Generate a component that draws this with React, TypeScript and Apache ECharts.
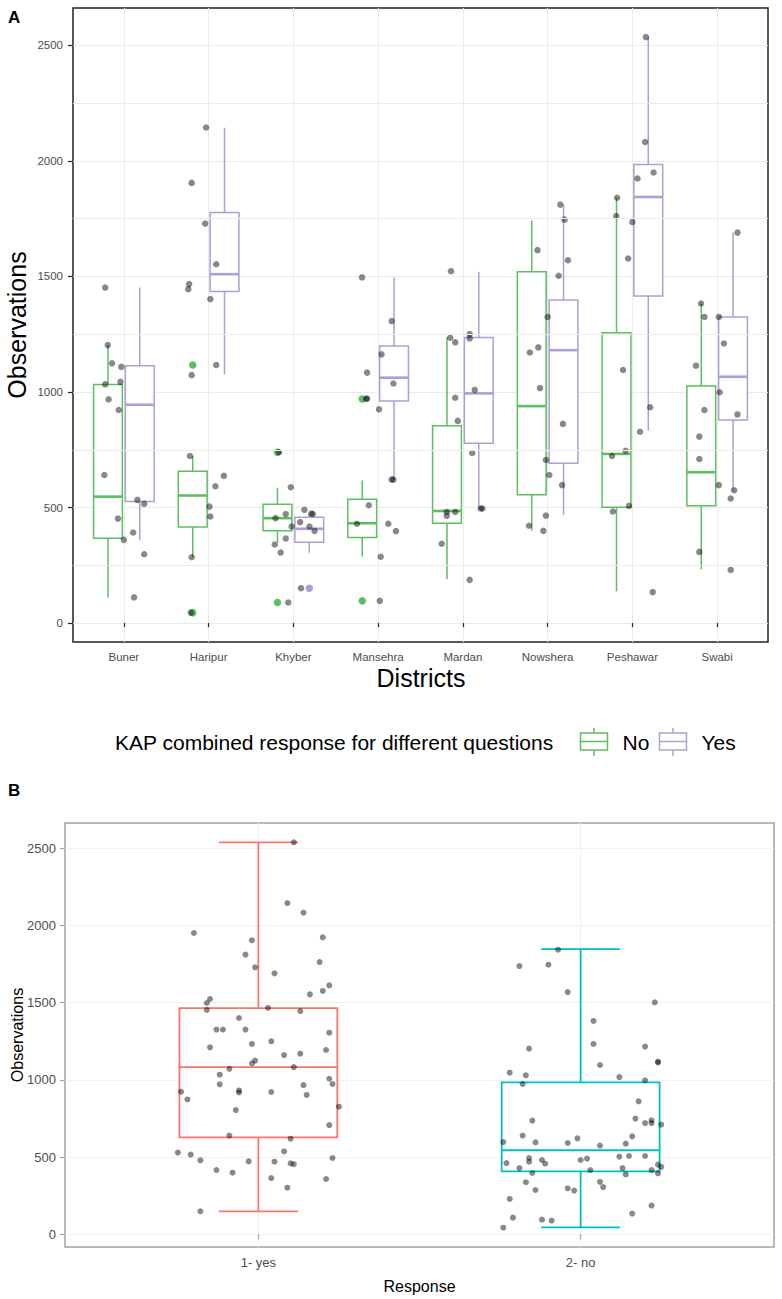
import React, { useEffect, useRef } from "react";
import * as echarts from "echarts";

// ---------- Panel A data ----------
const districts = ["Buner", "Haripur", "Khyber", "Mansehra", "Mardan", "Nowshera", "Peshawar", "Swabi"];
const yTicks = [0, 500, 1000, 1500, 2000, 2500];
const yMinorTicks = [250, 750, 1250, 1750, 2250];
const yMin = -82;
const yMax = 2662;

// [lower whisker, Q1, median, Q3, upper whisker]
const noBoxStats = [
  [111, 367, 547, 1033, 1203],
  [285, 416, 552, 657, 723],
  [348, 399, 454, 514, 586],
  [288, 370, 432, 536, 617],
  [191, 432, 485, 854, 1236],
  [400, 555, 939, 1520, 1743],
  [137, 501, 732, 1256, 1841],
  [233, 508, 653, 1026, 1383],
];
const yesBoxStats = [
  [360, 526, 945, 1114, 1452],
  [1076, 1435, 1510, 1777, 2144],
  [305, 350, 408, 458, 470],
  [621, 961, 1062, 1199, 1496],
  [495, 778, 994, 1236, 1520],
  [468, 692, 1181, 1398, 1811],
  [833, 1416, 1844, 1985, 2536],
  [575, 879, 1066, 1325, 1690],
];
// outliers: [district number (1-based), value]
const noOutliers = [
  [2, 1117], [2, 45], [3, 739], [3, 89], [4, 970], [4, 96],
];
const yesOutliers = [[3, 151]];

// jittered observations: [horizontal jitter (category units), value]
const bunerPoints = [
  [-0.22, 1452], [-0.19, 1203], [-0.14, 1124], [-0.03, 1109], [-0.22, 1033], [-0.04, 1044],
  [-0.18, 968], [-0.06, 922], [-0.23, 641], [-0.07, 452], [0.0, 360], [0.11, 392],
  [0.16, 533], [0.24, 516], [0.24, 298], [0.12, 111],
];
const haripurPoints = [
  [-0.03, 2145], [-0.2, 1905], [-0.04, 1729], [0.09, 1553], [-0.23, 1467], [-0.24, 1445],
  [0.02, 1402], [-0.2, 1073], [0.09, 1117], [-0.22, 723], [0.18, 637], [0.08, 592],
  [0.01, 504], [0.02, 461], [-0.2, 285], [-0.21, 45],
];
const khyberPoints = [
  [-0.17, 739], [-0.03, 588], [-0.09, 472], [-0.21, 454], [-0.02, 418], [-0.09, 366],
  [-0.22, 340], [-0.15, 305], [0.13, 490], [0.23, 472], [0.21, 474], [0.08, 437],
  [0.19, 418], [0.25, 399], [0.09, 151], [-0.06, 89],
];
const mansehraPoints = [
  [-0.14, 970], [-0.13, 972], [-0.13, 1084], [0.04, 1163], [0.18, 1037], [0.01, 925],
  [0.16, 621], [0.18, 621], [-0.11, 510], [-0.25, 430], [0.12, 430], [0.21, 398],
  [0.03, 287], [0.02, 96], [-0.19, 1496], [0.16, 1307],
];
const mardanPoints = [
  [-0.14, 1523], [-0.15, 1235], [-0.09, 1215], [0.08, 1251], [0.08, 1232], [-0.09, 975],
  [-0.06, 875], [0.14, 1009], [0.11, 736], [-0.19, 481], [-0.19, 464], [-0.09, 481],
  [0.21, 496], [0.23, 496], [-0.25, 343], [0.08, 187],
];
const nowsheraPoints = [
  [-0.12, 1614], [0.15, 1811], [0.2, 1746], [0.24, 1570], [0.13, 1503], [0.0, 1325],
  [-0.21, 1171], [-0.11, 1193], [-0.09, 1017], [0.18, 862], [-0.02, 706], [0.02, 641],
  [0.17, 597], [-0.22, 421], [-0.02, 465], [-0.05, 399],
];
const peshawarPoints = [
  [0.16, 2536], [0.15, 2082], [0.25, 1950], [0.06, 1924], [-0.18, 1841], [-0.19, 1761],
  [0.0, 1736], [-0.05, 1578], [-0.11, 1095], [-0.24, 723], [-0.08, 746], [-0.04, 507],
  [-0.23, 483], [0.21, 934], [0.09, 828], [0.24, 134],
];
const swabiPoints = [
  [0.24, 1690], [-0.19, 1383], [-0.15, 1325], [0.02, 1325], [0.08, 1210], [-0.25, 1114],
  [0.03, 999], [-0.15, 922], [0.24, 903], [-0.21, 807], [-0.21, 710], [0.02, 597],
  [0.2, 575], [0.16, 539], [-0.21, 308], [0.16, 230],
];

// ---------- Panel B data ----------
const responses = ["1- yes", "2- no"];
const responseBoxStats = [
  [149, 628, 1082, 1464, 2537],
  [45, 408, 544, 984, 1846],
];
const yesResponsePoints = [
  [0.11, 2537], [0.09, 2144], [0.14, 2082], [-0.2, 1950], [-0.02, 1903], [0.2, 1922],
  [-0.04, 1810], [0.19, 1762], [-0.01, 1728], [0.05, 1689], [0.22, 1611], [0.2, 1575],
  [0.16, 1553], [-0.15, 1523], [-0.16, 1497], [-0.16, 1452], [0.03, 1465], [0.13, 1445],
  [-0.06, 1400], [-0.13, 1325], [-0.11, 1325], [-0.04, 1325], [0.22, 1305], [0.04, 1249],
  [-0.02, 1232], [-0.15, 1210], [0.21, 1193], [0.13, 1169], [0.08, 1160], [-0.01, 1124],
  [-0.02, 1106], [-0.09, 1071], [0.11, 1082], [-0.12, 1033], [0.22, 1007], [-0.12, 971],
  [0.14, 966], [0.23, 973], [-0.24, 923], [-0.06, 931], [-0.06, 918], [0.04, 921],
  [0.15, 902], [-0.22, 873], [0.25, 826], [-0.07, 804], [0.22, 707], [-0.09, 639],
  [0.1, 619], [-0.25, 529], [0.08, 537], [-0.21, 516], [-0.18, 479], [-0.03, 472],
  [0.05, 470], [0.1, 459], [0.11, 454], [0.23, 494], [-0.13, 416], [-0.08, 399],
  [0.04, 364], [0.21, 358], [0.09, 302], [-0.18, 149],
];
const noResponsePoints = [
  [-0.07, 1842], [-0.19, 1736], [-0.1, 1745], [-0.04, 1568], [0.23, 1501], [0.04, 1381],
  [0.04, 1232], [-0.16, 1202], [0.2, 1215], [0.24, 1118], [0.24, 1112], [0.06, 1096],
  [-0.22, 1046], [-0.17, 1029], [0.12, 1018], [0.2, 997], [-0.18, 973], [0.18, 861],
  [-0.15, 736], [0.17, 749], [0.2, 720], [0.22, 738], [0.22, 720], [0.25, 710],
  [-0.18, 639], [0.16, 634], [-0.24, 597], [-0.14, 595], [-0.04, 591], [-0.01, 621],
  [0.14, 587], [0.06, 574], [0.12, 503], [0.15, 507], [0.2, 507], [-0.16, 494],
  [-0.16, 470], [-0.12, 481], [-0.11, 457], [0.0, 481], [0.02, 490], [-0.23, 461],
  [-0.19, 429], [0.03, 416], [0.13, 429], [0.24, 451], [0.25, 436], [0.22, 416],
  [0.24, 395], [-0.15, 397], [0.14, 388], [-0.17, 337], [0.06, 339], [0.07, 306],
  [-0.14, 287], [-0.04, 298], [-0.02, 283], [-0.22, 229], [0.22, 186], [-0.21, 108],
  [0.16, 134], [-0.12, 95], [-0.09, 89], [-0.24, 43],
];

// ---------- styling ----------
const GREEN = "#5DBE62";
const PURPLE = "#AD9FD4";
const RED = "#F8766D";
const CYAN = "#00BFC4";
const FONT = '"Liberation Sans", Arial, Helvetica, sans-serif';
const POINT = "rgba(0,0,0,0.58)";

function boxRenderer(offset: number, width: number, color: string, lw: number, medianLw: number, capWidth: number) {
  return (_params: any, api: any) => {
    const x = api.value(0) + offset;
    const pLow = api.coord([x, api.value(1)]);
    const pQ1 = api.coord([x, api.value(2)]);
    const pMed = api.coord([x, api.value(3)]);
    const pQ3 = api.coord([x, api.value(4)]);
    const pHigh = api.coord([x, api.value(5)]);
    const half = api.size([width, 0])[0] / 2;
    const cx = pMed[0];
    const stroke = { stroke: color, lineWidth: lw };
    const children: any[] = [
      { type: "line", shape: { x1: cx, y1: pQ3[1], x2: cx, y2: pHigh[1] }, style: stroke },
      { type: "line", shape: { x1: cx, y1: pQ1[1], x2: cx, y2: pLow[1] }, style: stroke },
    ];
    if (capWidth > 0) {
      const ch = api.size([capWidth, 0])[0] / 2;
      children.push({ type: "line", shape: { x1: cx - ch, y1: pHigh[1], x2: cx + ch, y2: pHigh[1] }, style: stroke });
      children.push({ type: "line", shape: { x1: cx - ch, y1: pLow[1], x2: cx + ch, y2: pLow[1] }, style: stroke });
    }
    children.push({
      type: "rect",
      shape: { x: cx - half, y: pQ3[1], width: 2 * half, height: pQ1[1] - pQ3[1] },
      style: { fill: "#ffffff", stroke: color, lineWidth: lw },
    });
    children.push({
      type: "line",
      shape: { x1: cx - half, y1: pMed[1], x2: cx + half, y2: pMed[1] },
      style: { stroke: color, lineWidth: medianLw },
    });
    return { type: "group", children };
  };
}

function legendKey(x: number, color: string) {
  return {
    type: "group",
    children: [
      { type: "line", shape: { x1: x + 13.5, y1: 728, x2: x + 13.5, y2: 756 }, style: { stroke: color, lineWidth: 1.5 } },
      { type: "rect", shape: { x, y: 733, width: 27, height: 17 }, style: { fill: "#fff", stroke: color, lineWidth: 1.5 } },
      { type: "line", shape: { x1: x, y1: 741.5, x2: x + 27, y2: 741.5 }, style: { stroke: color, lineWidth: 1.5 } },
    ],
  };
}

function text(t: string, x: number, y: number, size: number, opts: any = {}) {
  return {
    type: "text",
    x,
    y,
    rotation: opts.rotation || 0,
    style: {
      text: t,
      font: `${opts.bold ? "bold " : ""}${size}px ${FONT}`,
      fill: opts.color || "#000",
      align: opts.align || "center",
      textAlign: opts.align || "center",
      verticalAlign: "middle",
      textVerticalAlign: "middle",
    },
  };
}

const plain = (v: number) => String(v);

export default function App() {
  const ref = useRef<HTMLDivElement>(null);

  useEffect(() => {
    document.body.style.margin = "0";
    if (!ref.current) return;
    const chart = echarts.init(ref.current, undefined, { renderer: "svg" });

    const allA = [bunerPoints, haripurPoints, khyberPoints, mansehraPoints, mardanPoints, nowsheraPoints, peshawarPoints, swabiPoints];
    const pointsA = allA.flatMap((arr, i) => arr.map(([off, v]) => [i + 1 + off, v]));
    const pointsB = [
      ...yesResponsePoints.map(([off, v]) => [1 + off, v]),
      ...noResponsePoints.map(([off, v]) => [2 + off, v]),
    ];
    const catTicksA = districts.map((_, i) => i + 1);
    const catTicksB = responses.map((_, i) => i + 1);

    const option: any = {
      animation: false,
      backgroundColor: "#ffffff",
      grid: [
        { left: 73, top: 8, width: 695, height: 634, show: true, borderColor: "#222222", borderWidth: 1.5, backgroundColor: "transparent" },
        { left: 65, top: 823, width: 709, height: 424, show: true, borderColor: "#A3A3A3", borderWidth: 1.5, backgroundColor: "transparent" },
      ],
      xAxis: [
        {
          type: "value", gridIndex: 0, min: 0.4, max: 8.6,
          axisLine: { show: false },
          axisTick: { show: true, customValues: catTicksA, length: 4, lineStyle: { color: "#222", width: 1.2 } },
          axisLabel: {
            customValues: catTicksA, formatter: (v: number) => districts[Math.round(v) - 1] || "",
            color: "#4D4D4D", fontSize: 11.5, fontFamily: FONT, margin: 9,
          },
          splitLine: { show: true, lineStyle: { color: "#EBEBEB", width: 1 } },
        },
        {
          type: "value", gridIndex: 1, min: 0.4, max: 2.6,
          axisLine: { show: false },
          axisTick: { show: true, customValues: catTicksB, length: 5, lineStyle: { color: "#A3A3A3", width: 1.2 } },
          axisLabel: {
            customValues: catTicksB, formatter: (v: number) => responses[Math.round(v) - 1] || "",
            color: "#4D4D4D", fontSize: 13, fontFamily: FONT, margin: 9,
          },
          splitLine: { show: true, lineStyle: { color: "#F0F0F0", width: 1 } },
        },
      ],
      yAxis: [
        {
          type: "value", gridIndex: 0, min: yMin, max: yMax,
          axisLine: { show: false },
          axisTick: { show: true, customValues: yTicks, length: 5, lineStyle: { color: "#222", width: 1.2 } },
          axisLabel: { customValues: yTicks, formatter: plain, color: "#4D4D4D", fontSize: 11.5, fontFamily: FONT, margin: 10 },
          splitLine: { show: true, lineStyle: { color: "#EBEBEB", width: 1 } },
        },
        {
          type: "value", gridIndex: 1, min: yMin, max: yMax,
          axisLine: { show: false },
          axisTick: { show: true, customValues: yTicks, length: 5, lineStyle: { color: "#A3A3A3", width: 1.2 } },
          axisLabel: { customValues: yTicks, formatter: plain, color: "#4D4D4D", fontSize: 13, fontFamily: FONT, margin: 9 },
          splitLine: { show: true, lineStyle: { color: "#F0F0F0", width: 1 } },
        },
      ],
      series: [
        {
          type: "line", name: "minor grid", xAxisIndex: 0, yAxisIndex: 0, z: 1, silent: true,
          showSymbol: false, symbol: "none", lineStyle: { opacity: 0 },
          data: [[0.4, yMin]],
          markLine: {
            silent: true, symbol: ["none", "none"], label: { show: false }, animation: false,
            lineStyle: { color: "#EBEBEB", width: 1, type: "solid" },
            emphasis: { disabled: true },
            data: yMinorTicks.map((v) => ({ yAxis: v })),
          },
        },
        {
          type: "custom", name: "No", xAxisIndex: 0, yAxisIndex: 0, z: 2,
          renderItem: boxRenderer(-0.1875, 0.34, GREEN, 1.5, 2.6, 0),
          encode: { x: 0, y: [1, 2, 3, 4, 5] },
          data: noBoxStats.map((s, i) => [i + 1, ...s]),
        },
        {
          type: "custom", name: "Yes", xAxisIndex: 0, yAxisIndex: 0, z: 2,
          renderItem: boxRenderer(0.1875, 0.34, PURPLE, 1.5, 2.6, 0),
          encode: { x: 0, y: [1, 2, 3, 4, 5] },
          data: yesBoxStats.map((s, i) => [i + 1, ...s]),
        },
        {
          type: "scatter", name: "No outliers", xAxisIndex: 0, yAxisIndex: 0, z: 3,
          symbolSize: 7.5, itemStyle: { color: GREEN, opacity: 1 },
          data: noOutliers.map(([d, v]) => [d - 0.1875, v]),
        },
        {
          type: "scatter", name: "Yes outliers", xAxisIndex: 0, yAxisIndex: 0, z: 3,
          symbolSize: 7.5, itemStyle: { color: PURPLE, opacity: 1 },
          data: yesOutliers.map(([d, v]) => [d + 0.1875, v]),
        },
        {
          type: "scatter", name: "Observations A", xAxisIndex: 0, yAxisIndex: 0, z: 4,
          symbolSize: 6.5, itemStyle: { color: POINT },
          data: pointsA,
        },
        {
          type: "custom", name: "1- yes", xAxisIndex: 1, yAxisIndex: 1, z: 2,
          renderItem: boxRenderer(0, 0.49, RED, 1.8, 1.8, 0.245),
          encode: { x: 0, y: [1, 2, 3, 4, 5] },
          data: [[1, ...responseBoxStats[0]]],
        },
        {
          type: "custom", name: "2- no", xAxisIndex: 1, yAxisIndex: 1, z: 2,
          renderItem: boxRenderer(0, 0.49, CYAN, 1.8, 1.8, 0.245),
          encode: { x: 0, y: [1, 2, 3, 4, 5] },
          data: [[2, ...responseBoxStats[1]]],
        },
        {
          type: "scatter", name: "Observations B", xAxisIndex: 1, yAxisIndex: 1, z: 4,
          symbolSize: 6, itemStyle: { color: POINT },
          data: pointsB,
        },
      ],
      graphic: [
        text("A", 8, 17, 17, { bold: true, align: "left" }),
        text("Observations", 17, 325, 25, { rotation: Math.PI / 2 }),
        text("Districts", 421, 678, 25),
        text("KAP combined response for different questions", 115, 742, 21, { align: "left" }),
        legendKey(580.5, GREEN),
        text("No", 622.5, 742, 21, { align: "left" }),
        legendKey(659.5, PURPLE),
        text("Yes", 701.5, 742, 21, { align: "left" }),
        text("B", 8, 790.5, 17, { bold: true, align: "left" }),
        text("Observations", 17.5, 1035, 16, { rotation: Math.PI / 2 }),
        text("Response", 419.5, 1286, 16),
      ],
    };

    chart.setOption(option);
    return () => chart.dispose();
  }, []);

  return <div ref={ref} style={{ width: 782, height: 1299 }} />;
}
